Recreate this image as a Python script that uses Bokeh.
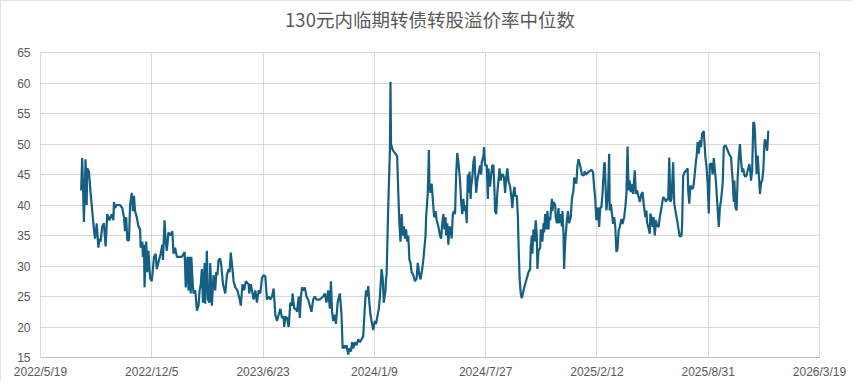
from datetime import datetime
from bokeh.plotting import figure
from bokeh.models import Range1d, FixedTicker, Title
from bokeh.embed import file_html
from bokeh.resources import INLINE

title_text = "130元内临期转债转股溢价率中位数"
x_tick_labels = ["2022/5/19", "2022/12/5", "2023/6/23", "2024/1/9",
                 "2024/7/27", "2025/2/12", "2025/8/31", "2026/3/19"]
y_ticks = [15, 20, 25, 30, 35, 40, 45, 50, 55, 60, 65]

dates = [
    "2022-07-31", "2022-08-02", "2022-08-05", "2022-08-08", "2022-08-10", "2022-08-11", "2022-08-14", "2022-08-17",
    "2022-08-21", "2022-08-23", "2022-08-25", "2022-08-28", "2022-08-31", "2022-09-02", "2022-09-04", "2022-09-07",
    "2022-09-10", "2022-09-13", "2022-09-16", "2022-09-20", "2022-09-24", "2022-09-27", "2022-09-28", "2022-09-30",
    "2022-10-03", "2022-10-09", "2022-10-13", "2022-10-16", "2022-10-18", "2022-10-20", "2022-10-22", "2022-10-25",
    "2022-10-27", "2022-10-30", "2022-11-01", "2022-11-03", "2022-11-05", "2022-11-08", "2022-11-11", "2022-11-14",
    "2022-11-15", "2022-11-18", "2022-11-19", "2022-11-21", "2022-11-22", "2022-11-24", "2022-11-25", "2022-11-27",
    "2022-11-29", "2022-12-02", "2022-12-05", "2022-12-09", "2022-12-12", "2022-12-14", "2022-12-18", "2022-12-21",
    "2022-12-24", "2022-12-25", "2022-12-26", "2022-12-28", "2022-12-30",
    "2023-01-01", "2023-01-04", "2023-01-07", "2023-01-11", "2023-01-13", "2023-01-16", "2023-01-19", "2023-01-28",
    "2023-02-02", "2023-02-04", "2023-02-07", "2023-02-09", "2023-02-11", "2023-02-13", "2023-02-14", "2023-02-17",
    "2023-02-18", "2023-02-21", "2023-02-23", "2023-02-24", "2023-02-27", "2023-03-01", "2023-03-03", "2023-03-05",
    "2023-03-07", "2023-03-10", "2023-03-11", "2023-03-14", "2023-03-16", "2023-03-19", "2023-03-20", "2023-03-23",
    "2023-03-26", "2023-03-29", "2023-03-31", "2023-04-02", "2023-04-04", "2023-04-07", "2023-04-09", "2023-04-12",
    "2023-04-16", "2023-04-19", "2023-04-22", "2023-04-24", "2023-04-26", "2023-04-29", "2023-05-01", "2023-05-04",
    "2023-05-08", "2023-05-12", "2023-05-14", "2023-05-17", "2023-05-20", "2023-05-23", "2023-05-28", "2023-05-29",
    "2023-06-01", "2023-06-03", "2023-06-06", "2023-06-09", "2023-06-12", "2023-06-15", "2023-06-18", "2023-06-21",
    "2023-06-24", "2023-06-27", "2023-06-30", "2023-07-03", "2023-07-06", "2023-07-09", "2023-07-12", "2023-07-15",
    "2023-07-18", "2023-07-21", "2023-07-24", "2023-07-27", "2023-07-30", "2023-07-31", "2023-08-02", "2023-08-05",
    "2023-08-08", "2023-08-11", "2023-08-14", "2023-08-15", "2023-08-18", "2023-08-21", "2023-08-23", "2023-08-26",
    "2023-08-28", "2023-08-30", "2023-09-01", "2023-09-04", "2023-09-06", "2023-09-09", "2023-09-12", "2023-09-15",
    "2023-09-18", "2023-09-21", "2023-09-24", "2023-09-27", "2023-10-03", "2023-10-09", "2023-10-12", "2023-10-15",
    "2023-10-18", "2023-10-21", "2023-10-23", "2023-10-25", "2023-10-27", "2023-10-30", "2023-11-01", "2023-11-04",
    "2023-11-06", "2023-11-08", "2023-11-11", "2023-11-13", "2023-11-16", "2023-11-18", "2023-11-20", "2023-11-23",
    "2023-11-25", "2023-11-28", "2023-11-30", "2023-12-02", "2023-12-05", "2023-12-08", "2023-12-11", "2023-12-14",
    "2023-12-17", "2023-12-20", "2023-12-23", "2023-12-25", "2023-12-27", "2023-12-29", "2023-12-31",
    "2024-01-02", "2024-01-05", "2024-01-07", "2024-01-10", "2024-01-12", "2024-01-14", "2024-01-17", "2024-01-19",
    "2024-01-22", "2024-01-24", "2024-01-26", "2024-01-29", "2024-01-30", "2024-01-31", "2024-02-03", "2024-02-06",
    "2024-02-07", "2024-02-08", "2024-02-11", "2024-02-15", "2024-02-19", "2024-02-21", "2024-02-23", "2024-02-25",
    "2024-02-27", "2024-02-29", "2024-03-02", "2024-03-04", "2024-03-06", "2024-03-08", "2024-03-10", "2024-03-12",
    "2024-03-14", "2024-03-16", "2024-03-19", "2024-03-22", "2024-03-25", "2024-03-27", "2024-03-30", "2024-04-01",
    "2024-04-04", "2024-04-06", "2024-04-08", "2024-04-10", "2024-04-11", "2024-04-14", "2024-04-16", "2024-04-17",
    "2024-04-19", "2024-04-21", "2024-04-23", "2024-04-25", "2024-04-26", "2024-04-28", "2024-04-30", "2024-05-03",
    "2024-05-06", "2024-05-08", "2024-05-10", "2024-05-12", "2024-05-14", "2024-05-16", "2024-05-17", "2024-05-19",
    "2024-05-21", "2024-05-23", "2024-05-25", "2024-05-27", "2024-05-29", "2024-05-31", "2024-06-02", "2024-06-04",
    "2024-06-06", "2024-06-08", "2024-06-11", "2024-06-13", "2024-06-15", "2024-06-17", "2024-06-19", "2024-06-21",
    "2024-06-23", "2024-06-25", "2024-06-27", "2024-06-28", "2024-06-30", "2024-07-01", "2024-07-03", "2024-07-05",
    "2024-07-07", "2024-07-08", "2024-07-10", "2024-07-12", "2024-07-14", "2024-07-17", "2024-07-19", "2024-07-20",
    "2024-07-23", "2024-07-24", "2024-07-26", "2024-07-29", "2024-07-31", "2024-08-01", "2024-08-04", "2024-08-06",
    "2024-08-08", "2024-08-10", "2024-08-12", "2024-08-13", "2024-08-15", "2024-08-17", "2024-08-19", "2024-08-21",
    "2024-08-23", "2024-08-25", "2024-08-27", "2024-08-29", "2024-08-31", "2024-09-02", "2024-09-04", "2024-09-06",
    "2024-09-09", "2024-09-11", "2024-09-13", "2024-09-15", "2024-09-17", "2024-09-18", "2024-09-21", "2024-09-23",
    "2024-09-24", "2024-09-26", "2024-09-28", "2024-09-30", "2024-10-03", "2024-10-06", "2024-10-09", "2024-10-12",
    "2024-10-15", "2024-10-16", "2024-10-18", "2024-10-19", "2024-10-21", "2024-10-23", "2024-10-25", "2024-10-27",
    "2024-10-28", "2024-10-30", "2024-11-02", "2024-11-03", "2024-11-06", "2024-11-08", "2024-11-09", "2024-11-11",
    "2024-11-13", "2024-11-15", "2024-11-17", "2024-11-18", "2024-11-20", "2024-11-23", "2024-11-24", "2024-11-26",
    "2024-11-29", "2024-11-30", "2024-12-02", "2024-12-05", "2024-12-06", "2024-12-09", "2024-12-11", "2024-12-12",
    "2024-12-14", "2024-12-15", "2024-12-17", "2024-12-20", "2024-12-22", "2024-12-24", "2024-12-27", "2024-12-29",
    "2025-01-01", "2025-01-02", "2025-01-04", "2025-01-06", "2025-01-08", "2025-01-10", "2025-01-14", "2025-01-16",
    "2025-01-19", "2025-01-21", "2025-01-23", "2025-01-26", "2025-01-28", "2025-01-30", "2025-02-02", "2025-02-05",
    "2025-02-07", "2025-02-09", "2025-02-11", "2025-02-14", "2025-02-16", "2025-02-18", "2025-02-20", "2025-02-22",
    "2025-02-25", "2025-02-26", "2025-02-28", "2025-03-01", "2025-03-04", "2025-03-06", "2025-03-07", "2025-03-09",
    "2025-03-11", "2025-03-13", "2025-03-15", "2025-03-17", "2025-03-19", "2025-03-21", "2025-03-23", "2025-03-25",
    "2025-03-28", "2025-03-30", "2025-04-02", "2025-04-04", "2025-04-06", "2025-04-08", "2025-04-10", "2025-04-12",
    "2025-04-14", "2025-04-17", "2025-04-18", "2025-04-21", "2025-04-23", "2025-04-25", "2025-04-28", "2025-04-30",
    "2025-05-03", "2025-05-05", "2025-05-07", "2025-05-10", "2025-05-12", "2025-05-13", "2025-05-16", "2025-05-18",
    "2025-05-19", "2025-05-21", "2025-05-23", "2025-05-25", "2025-05-27", "2025-05-29", "2025-05-31", "2025-06-03",
    "2025-06-05", "2025-06-08", "2025-06-11", "2025-06-14", "2025-06-16", "2025-06-18", "2025-06-20", "2025-06-22",
    "2025-06-24", "2025-06-26", "2025-06-29", "2025-07-01", "2025-07-03", "2025-07-06", "2025-07-09", "2025-07-11",
    "2025-07-14", "2025-07-15", "2025-07-17", "2025-07-20", "2025-07-23", "2025-07-25", "2025-07-26", "2025-07-28",
    "2025-07-30", "2025-08-02", "2025-08-04", "2025-08-06", "2025-08-09", "2025-08-10", "2025-08-12", "2025-08-14",
    "2025-08-16", "2025-08-18", "2025-08-20", "2025-08-23", "2025-08-26", "2025-08-28", "2025-08-30", "2025-09-01",
    "2025-09-03", "2025-09-06", "2025-09-08", "2025-09-10", "2025-09-12", "2025-09-14", "2025-09-16", "2025-09-19",
    "2025-09-21", "2025-09-23", "2025-09-26", "2025-09-28", "2025-10-01", "2025-10-03", "2025-10-06", "2025-10-09",
    "2025-10-11", "2025-10-14", "2025-10-16", "2025-10-17", "2025-10-19", "2025-10-21", "2025-10-23", "2025-10-25",
    "2025-10-27", "2025-10-29", "2025-10-31", "2025-11-02", "2025-11-04", "2025-11-06", "2025-11-08", "2025-11-10",
    "2025-11-13", "2025-11-15", "2025-11-16", "2025-11-18", "2025-11-20", "2025-11-22", "2025-11-23", "2025-11-26",
    "2025-11-28", "2025-11-30", "2025-12-02", "2025-12-04", "2025-12-06", "2025-12-08", "2025-12-10", "2025-12-11",
    "2025-12-13", "2025-12-15", "2025-12-17",
]

values = [
    42.4, 47.7, 37.2, 47.5, 40.0, 46.0, 45.5, 42.0,
    38.0, 36.0, 34.5, 37.0, 33.0, 34.5, 34.0, 36.5,
    37.0, 33.2, 38.5, 37.5, 38.5, 37.5, 40.5, 39.5,
    40.0, 40.0, 39.5, 38.0, 35.7, 38.0, 34.2, 34.2,
    40.0, 42.0, 39.0, 41.5, 39.0, 38.0, 36.5, 36.0,
    33.0, 34.0, 31.5, 33.5, 26.5, 32.0, 34.0, 29.0,
    32.5, 28.0, 27.5, 31.5, 32.0, 29.5, 31.0, 32.0,
    33.5, 31.0, 33.0, 37.5, 34.0,
    32.5, 35.5, 35.0, 35.7, 32.0, 33.0, 31.5, 31.5,
    32.3, 26.5, 31.5, 26.0, 31.5, 25.5, 31.5, 26.5,
    25.5, 26.0, 24.0, 22.7, 23.5, 26.0, 27.0, 29.5,
    24.0, 30.5, 23.8, 32.5, 24.5, 24.0, 30.5, 23.5,
    28.5, 26.0, 29.0, 28.5, 31.0, 31.2, 30.0, 27.0,
    25.5, 28.5, 29.5, 29.0, 32.2, 29.5, 27.5, 26.5,
    26.0, 24.5, 23.5, 27.0, 26.0, 27.5, 27.0, 25.5,
    27.0, 26.0, 24.5, 26.0, 24.0, 26.0, 25.5, 28.0,
    28.5, 28.3, 24.5, 25.0, 24.5, 25.0, 26.3, 22.0,
    21.0, 22.0, 23.0, 21.5, 21.7, 20.0, 21.7, 21.5,
    20.0, 24.0, 23.5, 25.5, 23.0, 23.0, 22.5, 25.0,
    21.5, 25.0, 26.5, 26.0, 26.5, 25.0, 24.5, 23.5,
    22.5, 24.5, 25.0, 24.5, 24.5, 25.0, 25.5, 24.0,
    26.0, 23.0, 27.5, 22.5, 21.0, 22.0, 20.5, 24.0,
    24.8, 25.5, 22.0, 16.5, 17.0, 16.5, 17.0, 15.5,
    16.5, 16.0, 17.5, 16.5, 17.5, 17.0, 18.0, 17.5,
    18.0, 18.5, 23.5, 26.0, 25.0, 26.7, 24.0,
    22.0, 20.5, 19.5, 21.0, 20.5, 21.5, 23.0, 25.0,
    29.5, 28.0, 24.0, 26.0, 28.0, 28.5, 40.0, 49.0,
    60.2, 50.0, 49.0, 48.5, 48.0, 42.0, 37.0, 34.0,
    38.5, 35.0, 36.5, 34.5, 36.0, 34.0, 35.0, 31.0,
    30.5, 29.0, 28.5, 27.5, 28.0, 30.5, 28.5, 27.8,
    29.5, 31.0, 33.0, 35.0, 38.0, 42.0, 49.0, 43.0,
    42.0, 43.5, 41.0, 38.5, 38.0, 39.0, 37.5, 36.5,
    35.0, 34.5, 37.0, 38.5, 36.0, 38.0, 35.0, 37.0,
    33.5, 36.5, 36.0, 34.5, 38.5, 39.0, 38.5, 45.0,
    48.5, 47.0, 44.0, 40.5, 38.5, 41.0, 39.0, 40.0,
    37.0, 45.0, 42.0, 45.5, 41.0, 43.0, 44.5, 47.0,
    48.0, 45.5, 42.0, 44.0, 45.0, 46.5, 45.0, 47.0,
    48.0, 49.5, 46.5, 46.5, 41.0, 46.0, 43.0, 45.0,
    46.5, 46.5, 42.0, 39.0, 38.5, 42.0, 44.0, 46.0,
    44.0, 45.0, 45.0, 44.5, 42.0, 44.5, 46.0, 44.0,
    43.0, 41.5, 39.5, 42.0, 43.0, 41.5, 41.5, 38.0,
    34.0, 28.0, 25.5, 24.7, 26.0, 27.0, 28.0, 29.0,
    29.5, 33.0, 35.0, 32.0, 36.0, 34.0, 37.5, 35.0,
    29.5, 32.5, 33.0, 36.0, 34.0, 37.0, 35.5, 38.5,
    36.0, 39.0, 36.0, 38.0, 37.5, 41.0, 39.0, 40.5,
    40.0, 38.0, 37.0, 39.5, 37.0, 38.5, 36.5, 39.0,
    35.0, 29.5, 34.0, 37.5, 39.0, 37.0, 38.0, 41.0,
    42.5, 44.5, 44.0, 43.5, 46.5, 47.5, 46.0, 45.0,
    44.8, 45.5, 45.0, 45.2, 45.5, 45.5, 45.8, 45.4,
    42.9, 41.0, 37.5, 39.6, 36.4, 39.6, 39.6, 41.8,
    46.7, 47.0, 41.8, 39.1, 41.8, 48.4, 39.1, 40.2,
    38.6, 36.9, 38.0, 36.4, 32.3, 32.8, 35.8, 36.4,
    37.7, 36.9, 38.0, 39.6, 41.8, 49.6, 42.4, 44.0,
    42.1, 43.4, 41.8, 45.7, 41.8, 42.4, 41.3, 40.5,
    41.8, 42.1, 40.2, 38.0, 39.1, 37.2, 36.1, 35.3,
    38.6, 38.0, 36.4, 38.0, 35.0, 37.5, 36.6, 36.4,
    38.0, 39.6, 41.3, 41.0, 40.5, 41.0, 40.8, 47.8,
    40.5, 41.0, 47.0, 40.2, 39.1, 37.6, 35.8, 34.8,
    35.0, 36.5, 44.8, 45.4, 45.7, 46.0, 42.4, 40.2,
    43.2, 42.6, 42.9, 44.3, 47.3, 47.8, 50.3, 48.4,
    50.6, 49.5, 51.7, 52.1, 47.8, 46.2, 43.5, 38.6,
    46.7, 46.8, 45.0, 47.7, 45.7, 43.7, 40.7, 36.4,
    39.6, 40.7, 43.5, 49.5, 49.8, 49.4, 48.7, 48.1,
    47.8, 44.0, 40.5, 44.0, 39.6, 39.1, 44.6, 47.8,
    50.0, 47.3, 45.4, 46.0, 44.9, 44.6, 44.9, 45.7,
    46.7, 45.1, 44.0, 45.7, 53.6, 53.3, 51.7, 45.1,
    48.1, 44.9, 41.8, 43.7, 44.0, 45.7, 50.0, 50.8,
    50.0, 48.9, 52.2,
]

EPOCH = datetime(1970, 1, 1)


def to_ms(dt):
    return (dt - EPOCH).total_seconds() * 1000.0


x_vals = [to_ms(datetime.strptime(d, "%Y-%m-%d")) for d in dates]
x_ticks = [int(to_ms(datetime.strptime(t, "%Y/%m/%d"))) for t in x_tick_labels]

p = figure(width=852, height=381,
           x_range=Range1d(x_ticks[0], x_ticks[-1]),
           y_range=Range1d(y_ticks[0], y_ticks[-1]),
           output_backend="svg", toolbar_location=None,
           min_border_left=40, min_border_right=33,
           min_border_top=52, min_border_bottom=24)

p.styles = {"outline": "1px solid #d9d9d9", "outline-offset": "-1px"}
p.background_fill_color = "white"
p.border_fill_color = "white"
p.outline_line_color = "#d9d9d9"

# spacer between the plot frame and the title (keeps the title near the top)
p.add_layout(Title(text=" ", text_font_size="1px", standoff=18), "above")

p.title.text = title_text
p.title.align = "center"
p.title.text_font = "Noto Sans CJK SC"
p.title.text_font_size = "18.5px"
p.title.text_font_style = "normal"
p.title.text_color = "#595959"
p.title.standoff = 0

xt = FixedTicker(ticks=x_ticks)
yt = FixedTicker(ticks=y_ticks)
p.xaxis.ticker = xt
p.yaxis.ticker = yt
p.xgrid.ticker = xt
p.ygrid.ticker = yt
p.xaxis.major_label_overrides = {t: lab for t, lab in zip(x_ticks, x_tick_labels)}

for ax in (p.xaxis, p.yaxis):
    ax.major_tick_line_color = None
    ax.minor_tick_line_color = None
    ax.major_tick_out = 0
    ax.major_tick_in = 0
    ax.minor_tick_out = 0
    ax.minor_tick_in = 0
    ax.major_label_text_font = "Liberation Sans"
    ax.major_label_text_font_size = "12px"
    ax.major_label_text_color = "#595959"
p.xaxis.axis_line_color = "#bfbfbf"
p.yaxis.axis_line_color = "#d9d9d9"
p.xaxis.major_label_standoff = 7
p.yaxis.major_label_standoff = 10

p.xgrid.grid_line_color = "#d9d9d9"
p.ygrid.grid_line_color = "#d9d9d9"
p.xgrid.grid_line_width = 1
p.ygrid.grid_line_width = 1

p.line(x_vals, values, line_color="#156082", line_width=2.2)

open("out.html", "w").write(file_html(p, INLINE))
